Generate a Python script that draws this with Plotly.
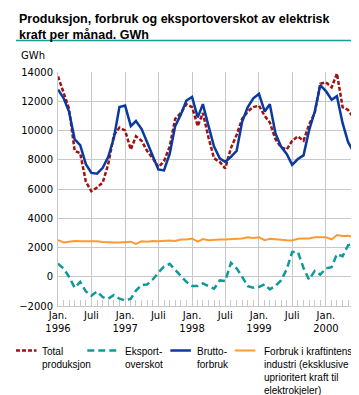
import plotly.graph_objects as go

# ---------------- data (GWh per month, Jan 1996 - Jun 2000) ----------------
months = [f"{1996 + i // 12}-{i % 12 + 1:02d}-01" for i in range(54)]

total_produksjon = [
    13700, 12600, 11500, 8600, 8450, 6500, 5850, 6100, 6450, 7700, 9700, 10200,
    10000, 8700, 9600, 9300, 8600, 8100, 7500, 7900, 8900, 10800, 11200, 11800,
    11600, 10300, 11200, 9500, 8100, 7850, 7400, 8800, 9700, 10800, 11300, 11600,
    11700, 11000, 10550, 9400, 8850, 8700, 9300, 9600, 9300, 10400, 11200, 13200,
    13300, 12950, 13900, 11600, 11400, 10850,
]
eksportoverskot = [
    900, 550, 0, -750, -350, -1000, -1300, -1000, -1400, -1500, -1250, -1500,
    -1620, -1500, -950, -550, -525, -185, 280, 700, 880, 450, 30, -350,
    -630, -640, -450, -620, -820, -250, -300, 950, 580, 0, -640, -750,
    -700, -520, -860, -620, -250, 500, 1700, 1700, 600, -200, 400, 150,
    570, 650, 1550, 1400, 2150, 2280,
]
bruttoforbruk = [
    12800, 12200, 11300, 9400, 9000, 7700, 7100, 7050, 7450, 8200, 9500, 11600,
    11700, 10300, 10650, 10100, 9200, 8260, 7340, 7270, 8400, 10300, 11100, 12050,
    12300, 10900, 11800, 10300, 8900, 8100, 7850, 8200, 8600, 10600, 11600, 12200,
    12500, 11300, 11800, 9800, 8900, 8400, 7650, 8050, 8300, 10000, 11300, 13100,
    12700, 12100, 12350, 10500, 9200, 8500,
]
kraftintensiv = [
    2500, 2350, 2400, 2450, 2420, 2430, 2420, 2430, 2380, 2350, 2350, 2350,
    2400, 2400, 2250, 2420, 2400, 2450, 2420, 2450, 2480, 2450, 2550, 2550,
    2620, 2400, 2580, 2500, 2550, 2550, 2550, 2560, 2600, 2620, 2700, 2650,
    2700, 2500, 2600, 2550, 2550, 2500, 2480, 2600, 2620, 2620, 2700, 2680,
    2700, 2550, 2850, 2780, 2800, 2720,
]

tick_dates = ["1996-01-01", "1996-07-01", "1997-01-01", "1997-07-01", "1998-01-01",
              "1998-07-01", "1999-01-01", "1999-07-01", "2000-01-01"]
tick_labels = ["Jan.<br>1996", "Juli", "Jan.<br>1997", "Juli", "Jan.<br>1998",
               "Juli", "Jan.<br>1999", "Juli", "Jan.<br>2000"]

series = [
    ("Total produksjon", total_produksjon, "#9e1212", "4px,2px", 2.5),
    ("Eksportoverskot", eksportoverskot, "#10999a", "7px,4px", 2.5),
    ("Bruttoforbruk", bruttoforbruk, "#0a3aa0", "solid", 2.5),
    ("Forbruk i kraftintensiv industri", kraftintensiv, "#ff9933", "solid", 2),
]

legend_text = ["Total<br>produksjon", "Eksport-<br>overskot", "Brutto-<br>forbruk",
               "Forbruk i kraftintensiv<br>industri (eksklusive<br>uprioritert kraft til<br>elektrokjeler)"]
title_text = "<b>Produksjon, forbruk og eksportoverskot av elektrisk<br>kraft per månad. GWh</b>"

FONT = "DejaVu Sans"
TFONT = "Liberation Sans"
W, H = 359, 395
L, R, T, B = 43, 11, 64, 97
PW, PH = W - L - R, H - T - B


def px(x):
    return (x - L) / PW


def py(y):
    return (H - B - y) / PH


fig = go.Figure()
for name, vals, color, dash, width in series:
    fig.add_trace(go.Scatter(x=months, y=vals, mode="lines", name=name,
                             line=dict(color=color, dash=dash, width=width),
                             showlegend=False))

grid = "#c8c8c8"
fig.update_layout(
    width=W, height=H,
    margin=dict(l=L, r=R, t=T, b=B),
    paper_bgcolor="white", plot_bgcolor="white",
    font=dict(family=FONT, size=10, color="black"),
    xaxis=dict(type="date", range=["1996-01-01", "2000-06-13"],
               tickmode="array", tickvals=tick_dates, ticktext=tick_labels,
               showgrid=True, gridcolor=grid, gridwidth=1,
               showline=True, linecolor=grid, linewidth=1,
               ticks="inside", ticklen=6, tickcolor=grid,
               minor=dict(ticks="inside", ticklen=6, tickcolor=grid,
                          dtick="M1", tick0="1996-01-01", showgrid=False),
               tickfont=dict(size=10), tickangle=0),
    yaxis=dict(range=[-2000, 14000], dtick=2000, tick0=0, tickformat="d",
               showgrid=True, gridcolor=grid, gridwidth=1,
               showline=True, linecolor=grid, linewidth=1,
               zeroline=False, ticks="", ticklabelstandoff=2,
               tickfont=dict(size=10)),
)

shapes = []
annotations = []
annotations.append(dict(text=title_text, xref="paper", yref="paper", x=px(1), y=py(2),
                        xanchor="left", yanchor="top", align="left", showarrow=False,
                        font=dict(family=TFONT, size=12.5, color="black")))
# separator lines
for yline in (32.5, 388):
    shapes.append(dict(type="line", xref="paper", yref="paper",
                       x0=px(0), x1=px(W), y0=py(yline), y1=py(yline),
                       line=dict(color="#1a9a9a", width=1.5)))
annotations.append(dict(text="GWh", xref="paper", yref="paper", x=px(3), y=py(47),
                        xanchor="left", yanchor="middle", showarrow=False,
                        font=dict(family=FONT, size=10)))

sample_x = [(0, 21), (73, 105), (158, 179), (224, 245)]
text_x = [25, 110, 183, 252]
for (name, vals, color, dash, width), (x0, x1), tx, lt in zip(series, sample_x, text_x, legend_text):
    shapes.append(dict(type="line", xref="paper", yref="paper",
                       x0=px(x0), x1=px(x1), y0=py(342.5), y1=py(342.5),
                       line=dict(color=color, dash=dash, width=width)))
    annotations.append(dict(text=lt, xref="paper", yref="paper", x=px(tx), y=py(335.5),
                            xanchor="left", yanchor="top", align="left", showarrow=False,
                            font=dict(family=TFONT, size=10)))

fig.update_layout(shapes=shapes, annotations=annotations)
fig.write_html("out.html")
